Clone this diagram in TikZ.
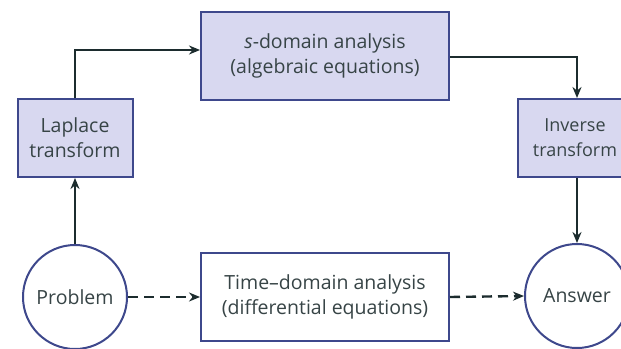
\documentclass[tikz,border=0pt]{standalone}
\usepackage{fontspec}
\setmainfont{Open Sans}
\usetikzlibrary{arrows.meta,shapes.geometric}
\definecolor{edgeblue}{RGB}{62,72,140}
\definecolor{boxfill}{RGB}{216,216,240}
\definecolor{txt}{RGB}{55,68,70}
\definecolor{arr}{RGB}{28,44,46}
\tikzset{
  every node/.style={font=\fontsize{19.5}{25}\selectfont, text=txt, align=center},
  sbox/.style={draw=edgeblue, line width=2pt, fill=boxfill, inner sep=0pt},
  tbox/.style={draw=edgeblue, line width=2pt, fill=white, inner sep=0pt},
  endpt/.style={circle, draw=edgeblue, line width=2pt, fill=white, minimum size=104pt, inner sep=0pt},
  conn/.style={draw=arr, line width=2.4pt, -{Stealth[length=11pt,width=9pt]}},
  dconn/.style={conn, dash pattern=on 10pt off 6pt},
}
\begin{document}
\begin{tikzpicture}[x=1pt,y=-1pt]
\useasboundingbox[fill=white] (0,0) rectangle (621,348);
\node[sbox, minimum width=115pt, minimum height=78pt] (lap) at (75,138) {Laplace\\transform};
\node[sbox, minimum width=248pt, minimum height=88pt] (sdom) at (325,56) {\textit{s}-domain analysis\\(algebraic equations)};
\node[sbox, minimum width=118pt, minimum height=78pt] (inv) at (577,138) {};
\node[font=\fontsize{18}{25}\selectfont] (invtxt) at (575,138) {Inverse\\transform};
\node[endpt] (prob) at (75,297) {Problem};
\node[endpt] (ans) at (577,296) {Answer};
\node[tbox, minimum width=248pt, minimum height=88pt] (tdom) at (325,297) {Time--domain analysis\\(differential equations)};
\coordinate (c1) at (200,50);
\coordinate (c2) at (450,57);
\draw[conn] (prob.north) -- (lap.south);
\draw[conn] (lap.north) |- (sdom.west |- c1);
\draw[conn] (sdom.east |- c2) -| (inv.north);
\draw[conn] (inv.south) -- (ans.north);
\draw[dconn] (prob.east) -- (tdom.west);
\draw[dconn] (tdom.east) -- (ans.west);
\end{tikzpicture}
\end{document}
